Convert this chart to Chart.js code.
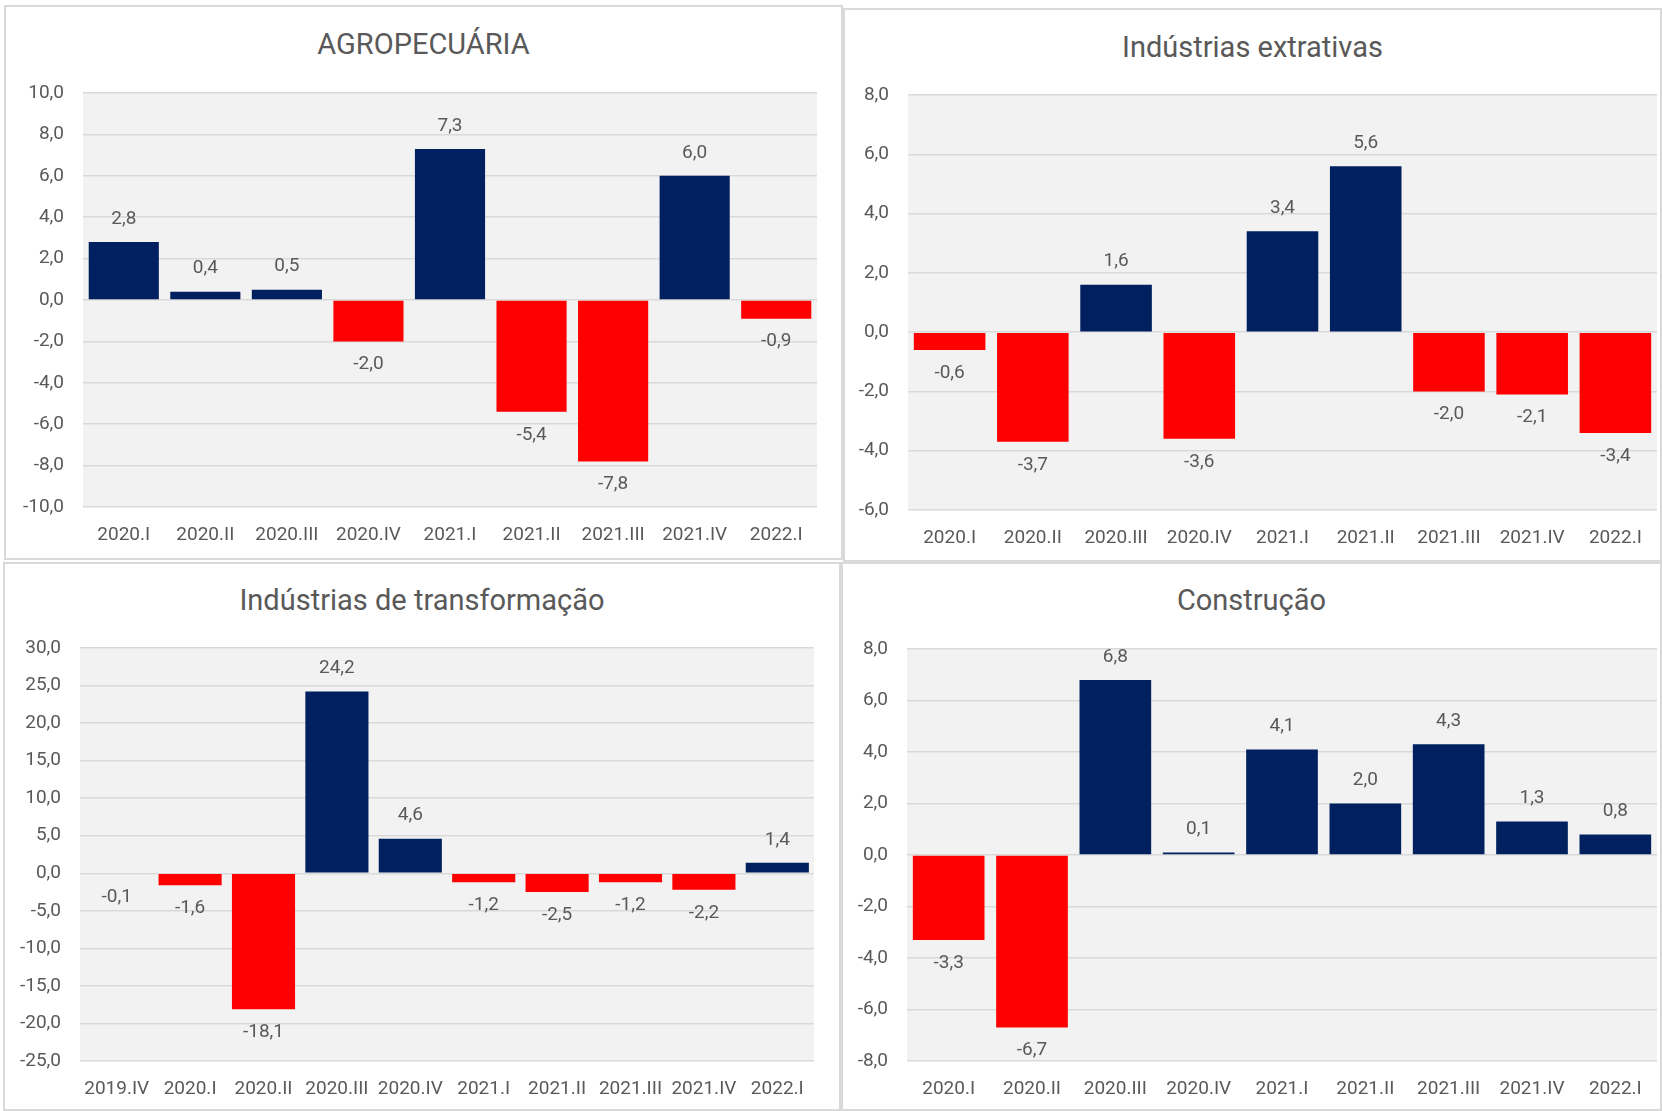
<!DOCTYPE html>
<html lang="pt">
<head>
    <meta charset="UTF-8">
    <title>PIB por setor</title>
    <script src="https://cdn.jsdelivr.net/npm/chart.js@4.4.1/dist/chart.umd.min.js"></script>
    <style>
        body {
            margin: 0;
            width: 1662px;
            height: 1111px;
            overflow: hidden;
            background: #fff;
            position: relative;
            font-family: 'Roboto', sans-serif;
        }

        .panel {
            position: absolute;
            box-sizing: border-box;
            border: 2px solid #d9d9d9;
            background: #fff;
        }

        .panel h2 {
            position: absolute;
            left: 0;
            right: 0;
            margin: 0;
            text-align: center;
            font-weight: normal;
            font-size: 29px;
            color: #595959;
            transform: translateY(-50%);
        }

        .panel canvas {
            position: absolute;
            left: 0;
            top: 0;
        }
    </style>
</head>
<body>

<div class="panel" id="p1" style="left:4px;top:5px;width:839px;height:555px;">
    <h2 style="top:37px;">AGROPECUÁRIA</h2>
    <canvas id="c1"></canvas>
</div>
<div class="panel" id="p2" style="left:843px;top:8px;width:819px;height:554px;">
    <h2 style="top:37px;">Indústrias extrativas</h2>
    <canvas id="c2"></canvas>
</div>
<div class="panel" id="p3" style="left:3px;top:562px;width:838px;height:549px;">
    <h2 style="top:36px;">Indústrias de transformação</h2>
    <canvas id="c3"></canvas>
</div>
<div class="panel" id="p4" style="left:841px;top:562px;width:821px;height:549px;">
    <h2 style="top:36px;">Construção</h2>
    <canvas id="c4"></canvas>
</div>

<script>
    // dados (variação %)
    const quarters = ['2020.I', '2020.II', '2020.III', '2020.IV', '2021.I', '2021.II', '2021.III', '2021.IV', '2022.I'];
    const quartersTransf = ['2019.IV', '2020.I', '2020.II', '2020.III', '2020.IV', '2021.I', '2021.II', '2021.III', '2021.IV', '2022.I'];

    const agro = [2.8, 0.4, 0.5, -2.0, 7.3, -5.4, -7.8, 6.0, -0.9];
    const extrativas = [-0.6, -3.7, 1.6, -3.6, 3.4, 5.6, -2.0, -2.1, -3.4];
    const transformacao = [-0.1, -1.6, -18.1, 24.2, 4.6, -1.2, -2.5, -1.2, -2.2, 1.4];
    const construcao = [-3.3, -6.7, 6.8, 0.1, 4.1, 2.0, 4.3, 1.3, 0.8];

    const NAVY = '#002060';
    const RED = '#ff0000';
    const TXT = '#595959';
    const FONT = "'Roboto', sans-serif";

    const fmt = v => v.toFixed(1).replace('.', ',');

    const plotBg = {
        id: 'plotBg',
        beforeDraw(chart) {
            const {ctx, chartArea: a} = chart;
            ctx.save();
            ctx.fillStyle = '#f2f2f2';
            ctx.fillRect(a.left, a.top, a.right - a.left, a.bottom - a.top);
            ctx.restore();
        }
    };

    const valueLabels = {
        id: 'valueLabels',
        afterDatasetsDraw(chart) {
            const ctx = chart.ctx;
            const data = chart.data.datasets[0].data;
            ctx.save();
            ctx.font = '19px ' + FONT;
            ctx.fillStyle = TXT;
            ctx.textAlign = 'center';
            ctx.textBaseline = 'middle';
            chart.getDatasetMeta(0).data.forEach((bar, i) => {
                const v = data[i];
                ctx.fillText(fmt(v), bar.x, v >= 0 ? bar.y - 23 : bar.y + 23);
            });
            ctx.restore();
        }
    };

    // g: [plot top, plot left (y-axis width), right padding, x-axis height]
    function makeChart(id, labels, values, min, max, step, g) {
        const el = document.getElementById(id);
        const box = el.parentElement;
        el.width = box.clientWidth;
        el.height = box.clientHeight;
        return new Chart(el, {
            type: 'bar',
            data: {
                labels,
                datasets: [{
                    data: values,
                    backgroundColor: values.map(v => v >= 0 ? NAVY : RED),
                    barPercentage: 1,
                    categoryPercentage: 0.86,
                    borderWidth: 0
                }]
            },
            options: {
                responsive: false,
                animation: false,
                layout: {padding: {top: g[0], right: g[2], left: 0, bottom: 0}},
                plugins: {legend: {display: false}, tooltip: {enabled: false}},
                scales: {
                    x: {
                        grid: {display: false},
                        border: {display: false},
                        ticks: {color: TXT, font: {family: FONT, size: 19}, padding: 9, maxRotation: 0, autoSkip: false},
                        afterFit: s => { s.height = g[3]; }
                    },
                    y: {
                        min, max,
                        grid: {color: '#d9d9d9', lineWidth: 1.5, drawTicks: false},
                        border: {display: false},
                        ticks: {stepSize: step, color: TXT, font: {family: FONT, size: 19}, padding: 19, callback: v => fmt(v)},
                        afterFit: s => { s.width = g[1]; }
                    }
                }
            },
            plugins: [plotBg, valueLabels]
        });
    }

    makeChart('c1', quarters, agro, -10, 10, 2, [86, 77, 24, 51]);
    makeChart('c2', quarters, extrativas, -6, 8, 2, [85, 63, 3, 50]);
    makeChart('c3', quartersTransf, transformacao, -25, 30, 5, [84, 75, 25, 48]);
    makeChart('c4', quarters, construcao, -8, 8, 2, [85, 64, 3, 48]);
</script>
</body>
</html>
